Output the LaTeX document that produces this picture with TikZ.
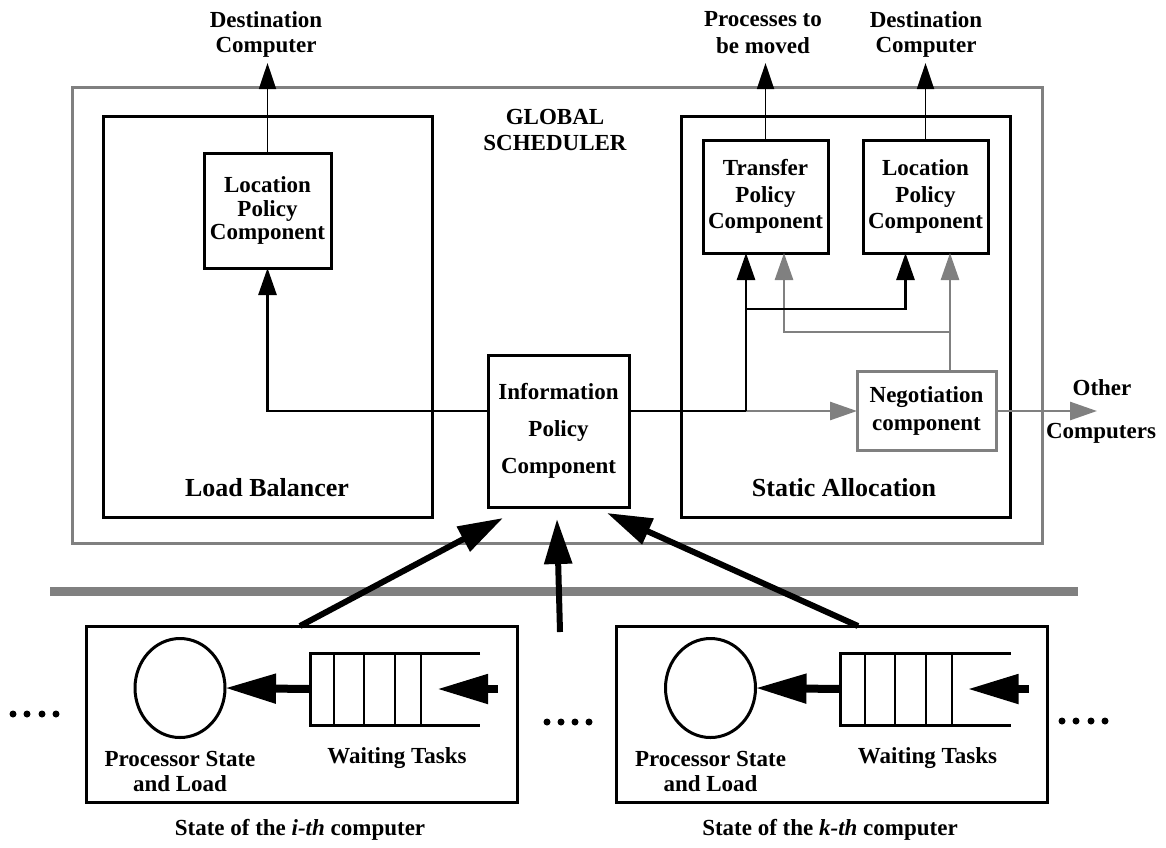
\documentclass[tikz,border=0pt]{standalone}
\usepackage{fontspec}
\setmainfont{Liberation Serif}
\usetikzlibrary{arrows.meta,shapes.geometric}
\definecolor{gr}{RGB}{128,128,128}
\begin{document}
\begin{tikzpicture}[x=1pt,y=-1pt,
  every node/.style={inner sep=0pt, outer sep=0pt},
  txt/.style={font=\bfseries\fontsize{23}{25}\selectfont, align=center},
  bigtxt/.style={font=\bfseries\fontsize{26}{28}\selectfont, align=center},
  box/.style={draw, line width=3pt, align=center, font=\bfseries\fontsize{23}{25}\selectfont},
  gbox/.style={draw=gr, line width=3pt, align=center, font=\bfseries\fontsize{23}{28}\selectfont},
  conn/.style={line width=2.7pt, -{Triangle[length=27pt,width=18pt]}},
  gconn/.style={draw=gr, line width=2.7pt, -{Triangle[length=27pt,width=18pt]}},
  thinarrow/.style={line width=1.8pt, -{Triangle[length=26pt,width=17pt]}},
  bigarrow/.style={line width=6pt, -{Triangle[length=45pt,width=27pt]}},
  qarrow/.style={line width=8pt, -{Triangle[length=51pt,width=28pt]}},
  qline/.style={line width=3pt},
  divline/.style={line width=2pt},
  dot/.style={circle, fill, minimum size=7pt}
]
\useasboundingbox (0,0) rectangle (1166,847);

% outer frame and big boxes
\node[draw=gr, line width=3pt, minimum width=970pt, minimum height=456pt] (gs) at (557,315) {};
\node[draw, line width=3pt, minimum width=329pt, minimum height=401pt] (lb) at (267.5,316.5) {};
\node[draw, line width=3pt, minimum width=329pt, minimum height=401pt] (sa) at (845.5,316.5) {};
\node[txt, font=\bfseries\fontsize{23}{26}\selectfont] (gsl) at (555,130) {GLOBAL\\SCHEDULER};
\node[bigtxt] (lbl) at (267,488) {Load Balancer};
\node[bigtxt] (sal) at (844,488) {Static Allocation};

% component boxes
\node[box, minimum width=127pt, minimum height=115pt, font=\bfseries\fontsize{23}{23.5}\selectfont] (lp1) at (267.5,210.5) {Location\\Policy\\Component};
\node[box, minimum width=141pt, minimum height=152pt, font=\bfseries\fontsize{23}{37}\selectfont] (info) at (558.5,431) {Information\\Policy\\Component};
\node[box, minimum width=125pt, minimum height=113pt, font=\bfseries\fontsize{23}{26.5}\selectfont] (tp) at (765.5,196.5) {Transfer\\Policy\\Component};
\node[box, minimum width=125pt, minimum height=113pt, font=\bfseries\fontsize{23}{26.5}\selectfont] (lp2) at (925.5,196.5) {Location\\Policy\\Component};
\node[gbox, minimum width=139pt, minimum height=79pt] (neg) at (926.5,411) {Negotiation\\component};

% top labels
\node[txt] (dl1) at (266,34) {Destination\\Computer};
\node[txt, font=\bfseries\fontsize{23}{27}\selectfont] (pm) at (763,33) {Processes to\\be moved};
\node[txt] (dl2) at (926,34) {Destination\\Computer};
\node[txt] (oth) at (1102,388) {Other};
\node[txt] (cmp) at (1101,433) {Computers};

\coordinate (d1) at (267.5,63);
\coordinate (d2) at (765.5,63);
\coordinate (d3) at (925.5,63);
\draw[thinarrow] (lp1.north) -- (d1);
\draw[thinarrow] (tp.north) -- (d2);
\draw[thinarrow] (lp2.north) -- (d3);

% connectors from information policy
\draw[conn] ([yshift=20pt]info.west) -| (lp1.south);
\coordinate (ja) at (746,411);
\coordinate (jb) at (746,309);
\coordinate (gc) at (950,332);
\coordinate (oc) at (1097,411);
\draw[gconn] ([xshift=23.5pt]neg.north) -- (gc) -- (gc |- lp2.south);
\draw[gconn] (gc) -| ([xshift=18.5pt]tp.south);
\draw[gconn] (ja) -- (neg.west);
\draw[gconn] (neg.east) -- (oc);
\draw[line width=2.7pt] ([yshift=20pt]info.east) -- (ja);
\draw[conn] (ja) -- (ja |- tp.south);
\draw[conn] (jb) -| ([xshift=-20pt]lp2.south);

% separator bar
\coordinate (bl) at (50,591);
\coordinate (br) at (1078,591);
\draw[gr, line width=9pt] (bl) -- (br);

% computer boxes
\node[draw, line width=3pt, minimum width=431pt, minimum height=176pt] (ci) at (301.5,714) {};
\node[draw, line width=3pt, minimum width=431pt, minimum height=176pt] (ck) at (832,714) {};

\foreach \n/\dx in {1/0, 2/530.5} {
  \begin{scope}[xshift=\dx pt]
    \node[ellipse, draw, line width=3pt, minimum width=90pt, minimum height=99pt] (cpu\n) at (180,688) {};
    \node[minimum width=170pt, minimum height=72pt] (q\n) at (395,689) {};
    \draw[qline] (q\n.north east) -- (q\n.north west) -- (q\n.south west) -- (q\n.south east);
    \foreach \o in {24,54,85,111}
      \draw[divline] ([xshift=\o pt]q\n.north west) -- ([xshift=\o pt]q\n.south west);
    \draw[qarrow] (q\n.west) -- (cpu\n.east);
    \coordinate (in\n) at (498,689);
    \draw[qarrow] (in\n) -- ([xshift=-43pt]q\n.east);
    \node[txt] (pl\n) at (180,771) {Processor State\\and Load};
    \node[txt] (wt\n) at (397,758) {Waiting Tasks};
  \end{scope}
}

\node[txt] (si) at (300,830) {State of the \textit{i-th} computer};
\node[txt] (sk) at (830,830) {State of the \textit{k-th} computer};

% thick arrows into information policy
\coordinate (mid) at (560,632);
\draw[bigarrow] ([xshift=-1.5pt]ci.north) -- ([xshift=15pt,yshift=-11pt]info.south west);
\draw[bigarrow] (mid) -- ([xshift=-1.5pt,yshift=-12pt]info.south);
\draw[bigarrow] ([xshift=26pt]ck.north) -- ([xshift=-22pt,yshift=-6pt]info.south east);

% dots
\foreach \x [count=\i] in {13,27,42,56} \node[dot] (dl\i) at (\x,714) {};
\foreach \x [count=\i] in {547,561,575,589} \node[dot] (dm\i) at (\x,722) {};
\foreach \x [count=\i] in {1062,1076,1091,1105} \node[dot] (dr\i) at (\x,721) {};
\end{tikzpicture}
\end{document}
